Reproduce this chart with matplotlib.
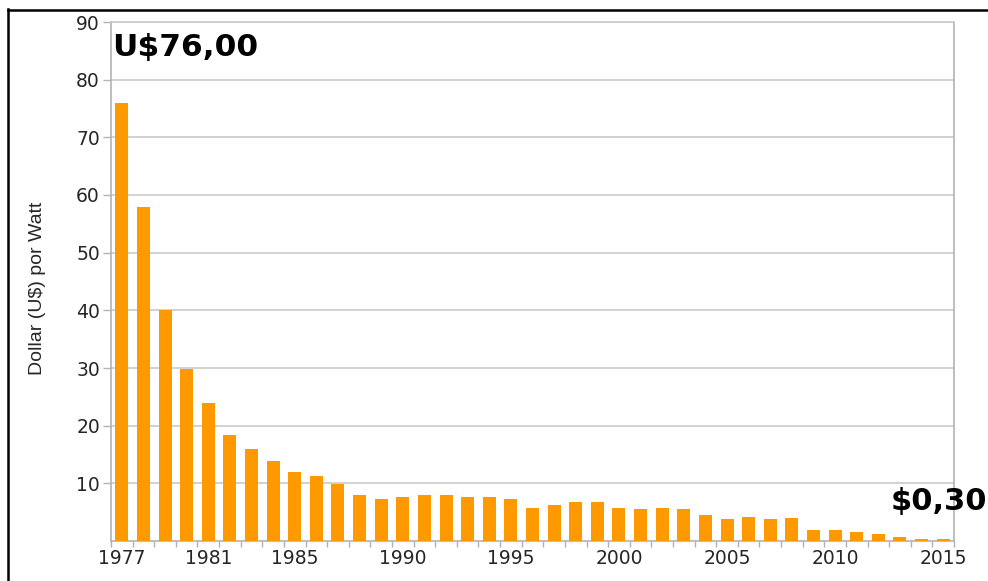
import matplotlib
matplotlib.use("Agg")
import matplotlib.pyplot as plt
from matplotlib.lines import Line2D
from matplotlib.ticker import FixedLocator

# Price of photovoltaic cells, dollars per watt
years = list(range(1977, 2016))
price = [76.0, 58.0, 40.0, 29.8, 23.9, 18.3, 15.9, 13.9, 12.0, 11.2,
         9.9, 8.0, 7.3, 7.7, 8.0, 8.0, 7.7, 7.7, 7.3, 5.8,
         6.2, 6.8, 6.8, 5.8, 5.6, 5.8, 5.6, 4.5, 3.8, 4.2,
         3.9, 4.0, 1.9, 1.9, 1.6, 1.2, 0.7, 0.35, 0.3]
labelled_years = [1977, 1981, 1985, 1990, 1995, 2000, 2005, 2010, 2015]
y_ticks = [10, 20, 30, 40, 50, 60, 70, 80, 90]
y_label = "Dollar (U$) por Watt"
first_note = "U$76,00"
last_note = "$0,30"

BAR = "#ff9900"
GRID = "#cacaca"
AXIS = "#b3b3b3"
TEXT = "#262626"

fig = plt.figure(figsize=(9.88, 5.81), dpi=100)
fig.patch.set_facecolor("white")
ax = fig.add_axes([111 / 988, 1 - 541 / 581, (954 - 111) / 988, (541 - 22) / 581])

x = list(range(len(years)))
ax.bar(x, price, width=0.6, color=BAR, zorder=3)

ax.set_xlim(-0.5, len(years) - 0.5)
ax.set_ylim(0, 90)

# y axis
ax.set_yticks(y_ticks)
ax.set_yticklabels([str(v) for v in y_ticks], fontsize=13.5, color=TEXT,
                   family="DejaVu Sans")
ax.yaxis.grid(True, color=GRID, linewidth=1.2, zorder=0)
ax.tick_params(axis="y", length=6, width=1.0, color=AXIS, pad=2)

# x axis: labels at selected years, small ticks between bars
major = [years.index(y) for y in labelled_years]
ax.set_xticks(major)
ax.set_xticklabels([str(y) for y in labelled_years], fontsize=13.5,
                   color=TEXT, family="DejaVu Sans")
ax.xaxis.set_minor_locator(FixedLocator([i - 0.5 for i in range(len(years) + 1)]))
ax.tick_params(axis="x", which="major", length=0, pad=6)
ax.tick_params(axis="x", which="minor", length=4, width=1.0, color="#a9b1c6")

for side in ["left", "right", "bottom", "top"]:
    ax.spines[side].set_color(AXIS)
    ax.spines[side].set_linewidth(1.2)
ax.spines["top"].set_color(GRID)

fig.text(38 / 988, 1 - 288 / 581, y_label, rotation=90, ha="center",
         va="center", fontsize=14, color=TEXT, family="Liberation Sans")

ax.text(-0.45, 85.5, first_note, ha="left", va="center", fontsize=22.5,
        fontweight="bold", color="black", family="DejaVu Sans", zorder=5)
ax.text(35.55, 6.8, last_note, ha="left", va="center", fontsize=22,
        fontweight="bold", color="black", family="DejaVu Sans",
        clip_on=False, zorder=5)

# black frame along the top and left edges of the figure
fig.add_artist(Line2D([8 / 988, 1.0], [1 - 9.5 / 581, 1 - 9.5 / 581],
                      transform=fig.transFigure, color="black", linewidth=1.8))
fig.add_artist(Line2D([7.5 / 988, 7.5 / 988], [0.0, 1 - 9 / 581],
                      transform=fig.transFigure, color="black", linewidth=1.8))

fig.savefig("out.png", dpi=100, facecolor="white")
